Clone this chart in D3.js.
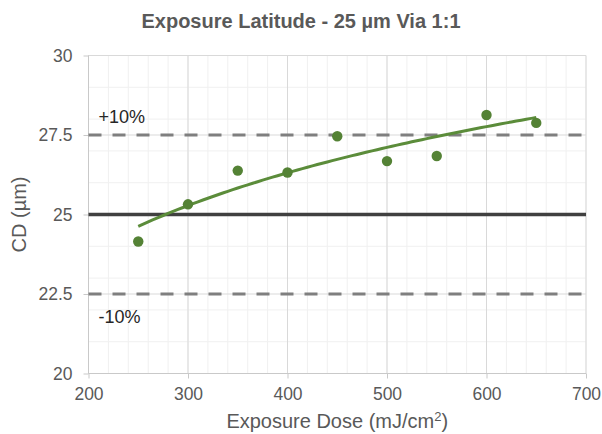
<!DOCTYPE html>
<html lang="en">

<head>
    <meta charset="UTF-8">
    <title>Exposure Latitude - 25 µm Via 1:1</title>
    <script src="https://d3js.org/d3.v7.min.js"></script>
    <style>
        body {
            margin: 0;
            padding: 0;
            background: #fff;
        }

        svg {
            display: block;
            font-family: "Liberation Sans", Arial, sans-serif;
        }

        .grid-minor line {
            stroke: #f0f0f0;
            stroke-width: 1;
        }

        .grid-major line {
            stroke: #d9d9d9;
            stroke-width: 1;
        }

        .axis path,
        .axis line {
            stroke: #c9c9c9;
        }

        .axis text {
            fill: #595959;
            font-size: 17.5px;
        }
    </style>
</head>

<body>
    <svg width="602" height="434"></svg>
    <script>
        // data
        const doses = [250, 300, 350, 400, 450, 500, 550, 600, 650];
        const cdValues = [24.15, 25.32, 26.38, 26.32, 27.46, 26.68, 26.84, 28.13, 27.88];
        const xTicks = [200, 300, 400, 500, 600, 700];
        const yTicks = [20, 22.5, 25, 27.5, 30];
        const targetCD = 25;
        const limitValues = [27.5, 22.5];
        const limitLabels = ["+10%", "-10%"];

        const svg = d3.select("svg"),
            width = +svg.attr("width"),
            height = +svg.attr("height");

        const margin = { top: 55.5, right: 16, bottom: 60.5, left: 88.5 };
        const x = d3.scaleLinear().domain([200, 700]).range([margin.left, width - margin.right]);
        const y = d3.scaleLinear().domain([20, 30]).range([height - margin.bottom, margin.top]);

        // grid (minor then major)
        const minorG = svg.append("g").attr("class", "grid-minor");
        minorG.selectAll("line.v").data(d3.range(200, 701, 20)).enter().append("line")
            .attr("x1", d => x(d)).attr("x2", d => x(d))
            .attr("y1", y(20)).attr("y2", y(30));
        minorG.selectAll("line.h").data(d3.range(20, 30.01, 1)).enter().append("line")
            .attr("x1", x(200)).attr("x2", x(700))
            .attr("y1", d => y(d)).attr("y2", d => y(d));

        const majorG = svg.append("g").attr("class", "grid-major");
        majorG.selectAll("line.v").data(xTicks).enter().append("line")
            .attr("x1", d => x(d)).attr("x2", d => x(d))
            .attr("y1", y(20)).attr("y2", y(30));
        majorG.selectAll("line.h").data(yTicks).enter().append("line")
            .attr("x1", x(200)).attr("x2", x(700))
            .attr("y1", d => y(d)).attr("y2", d => y(d));

        // axes
        const xAxis = svg.append("g").attr("class", "axis")
            .attr("transform", `translate(0,${y(20)})`)
            .call(d3.axisBottom(x).tickValues(xTicks).tickSize(5).tickPadding(9).tickFormat(d3.format("d")));
        const yAxis = svg.append("g").attr("class", "axis")
            .attr("transform", `translate(${x(200)},0)`)
            .call(d3.axisLeft(y).tickValues(yTicks).tickSize(5).tickPadding(11).tickFormat(d => String(d)));
        svg.selectAll(".axis .domain").attr("d", null);
        xAxis.append("line").attr("x1", x(200)).attr("x2", x(700)).attr("stroke", "#c9c9c9");
        yAxis.append("line").attr("y1", y(20)).attr("y2", y(30)).attr("stroke", "#c9c9c9");
        svg.selectAll(".axis text").attr("font-family", null);

        // reference lines
        svg.append("line")
            .attr("x1", x(200)).attr("x2", x(700))
            .attr("y1", y(targetCD)).attr("y2", y(targetCD))
            .attr("stroke", "#404040").attr("stroke-width", 3.5);

        svg.append("g").selectAll("line").data(limitValues).enter().append("line")
            .attr("x1", x(200)).attr("x2", x(700))
            .attr("y1", d => y(d)).attr("y2", d => y(d))
            .attr("stroke", "#7f7f7f").attr("stroke-width", 3)
            .attr("stroke-dasharray", "13,11");

        svg.append("g").selectAll("text").data(limitValues).enter().append("text")
            .attr("x", x(200) + 10)
            .attr("y", (d, i) => i === 0 ? y(d) - 12 : y(d) + 29)
            .attr("fill", "#262626")
            .attr("font-size", "18px")
            .text((d, i) => limitLabels[i]);

        // logarithmic trendline fitted to the points
        const lx = doses.map(Math.log),
            mx = d3.mean(lx), my = d3.mean(cdValues);
        const slope = d3.sum(lx, (v, i) => (v - mx) * (cdValues[i] - my)) / d3.sum(lx, v => (v - mx) ** 2);
        const icpt = my - slope * mx;
        const trendX = d3.range(doses[0], doses[doses.length - 1] + 0.1, 5);
        svg.append("path")
            .datum(trendX)
            .attr("fill", "none")
            .attr("stroke", "#5b8c3a")
            .attr("stroke-width", 3)
            .attr("d", d3.line().x(d => x(d)).y(d => y(icpt + slope * Math.log(d))));

        // points
        svg.append("g").selectAll("circle").data(doses).enter().append("circle")
            .attr("cx", d => x(d))
            .attr("cy", (d, i) => y(cdValues[i]))
            .attr("r", 5.2)
            .attr("fill", "#548235");

        // titles
        svg.append("text")
            .attr("x", width / 2).attr("y", 28)
            .attr("text-anchor", "middle")
            .attr("font-size", "20px").attr("font-weight", "bold")
            .attr("fill", "#595959")
            .text("Exposure Latitude - 25 µm Via 1:1");

        const xt = svg.append("text")
            .attr("x", (x(200) + x(700)) / 2).attr("y", 428)
            .attr("text-anchor", "middle")
            .attr("font-size", "20px")
            .attr("fill", "#595959");
        xt.append("tspan").text("Exposure Dose (mJ/cm");
        xt.append("tspan").attr("font-size", "13px").attr("dy", "-7").text("2");
        xt.append("tspan").attr("dy", "7").text(")");

        svg.append("text")
            .attr("transform", `translate(26,${(y(20) + y(30)) / 2}) rotate(-90)`)
            .attr("text-anchor", "middle")
            .attr("font-size", "20px")
            .attr("fill", "#595959")
            .text("CD (µm)");
    </script>
</body>

</html>
